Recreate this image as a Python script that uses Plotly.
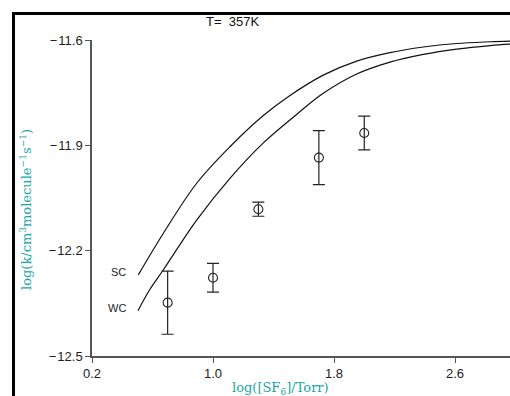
import plotly.graph_objects as go

# ---- data ----
title_text = "T=\u00a0\u00a0357K"
exp_x = [0.70, 1.00, 1.30, 1.70, 2.00]
exp_y = [-12.348, -12.277, -12.082, -11.935, -11.865]
exp_err = [0.090, 0.041, 0.020, 0.077, 0.048]

sc_x = [0.506, 0.671, 0.892, 1.112, 1.333, 1.509, 1.729, 1.950, 2.170, 2.391, 2.611, 2.832, 2.964]
sc_y = [-12.269, -12.151, -12.008, -11.904, -11.815, -11.758, -11.700, -11.660, -11.636, -11.620, -11.610, -11.605, -11.603]
wc_x = [0.504, 0.583, 0.671, 0.892, 1.112, 1.333, 1.553, 1.729, 1.950, 2.170, 2.391, 2.611, 2.832, 2.964]
wc_y = [-12.371, -12.310, -12.255, -12.113, -11.994, -11.893, -11.812, -11.752, -11.697, -11.663, -11.641, -11.626, -11.616, -11.612]

x_ticks = [0.2, 1.0, 1.8, 2.6]
x_ticklabels = ["0.2", "1.0", "1.8", "2.6"]
y_ticks = [-11.6, -11.9, -12.2, -12.5]
y_ticklabels = ["\u2212\u200a11.6", "\u2212\u200a11.9", "\u2212\u200a12.2", "\u2212\u200a12.5"]

teal = "#1aa6a6"

# plot area in page pixels: x 92..510, y 40..356
def px(x):
    return (x - 92) / 418

def py(y):
    return (356 - y) / 316

fig = go.Figure()
fig.add_trace(go.Scatter(x=sc_x, y=sc_y, mode="lines", line=dict(color="#111", width=1.2, shape="spline"),
                         showlegend=False, hoverinfo="skip"))
fig.add_trace(go.Scatter(x=wc_x, y=wc_y, mode="lines", line=dict(color="#111", width=1.2, shape="spline"),
                         showlegend=False, hoverinfo="skip"))
fig.add_trace(go.Scatter(x=exp_x, y=exp_y, mode="markers",
                         marker=dict(symbol="circle-open", size=9, color="#222", line=dict(width=1.1)),
                         error_y=dict(type="data", array=exp_err, visible=True, color="#222", thickness=1.2, width=6),
                         showlegend=False))

fig.update_layout(
    width=510, height=396,
    margin=dict(l=92, r=0, t=40, b=40),
    paper_bgcolor="white", plot_bgcolor="white",
    font=dict(family="Liberation Sans, Arial, sans-serif", size=12, color="#222"),
    xaxis=dict(range=[0.2, 2.9636], tickvals=x_ticks, ticktext=x_ticklabels, ticks="outside",
               ticklen=5, tickcolor="#555", showline=True, linecolor="#555", linewidth=1.5,
               showgrid=False, zeroline=False, tickfont=dict(size=13)),
    yaxis=dict(range=[-12.5, -11.6], tickvals=y_ticks, ticktext=y_ticklabels, ticks="outside",
               ticklen=5, tickcolor="#555", showline=True, linecolor="#555", linewidth=1.5,
               showgrid=False, zeroline=False, tickfont=dict(size=13)),
    shapes=[
        dict(type="line", xref="paper", yref="paper", x0=px(13.5), x1=px(13.5),
             y0=py(12), y1=py(400), line=dict(color="black", width=3)),
        dict(type="line", xref="paper", yref="paper", x0=px(12), x1=1.05,
             y0=py(13.5), y1=py(13.5), line=dict(color="black", width=3)),
    ],
    annotations=[
        dict(text=title_text, xref="paper", yref="paper", x=px(232), y=py(22),
             xanchor="center", yanchor="middle",
             showarrow=False, font=dict(size=13, color="#111")),
        dict(text="log(k/cm<sup>3</sup>molecule<sup>\u22121</sup>s<sup>\u22121</sup>)", xref="paper", yref="paper",
             x=px(26), y=py(210), xanchor="center", yanchor="middle", textangle=-90, showarrow=False,
             font=dict(family="DejaVu Serif, serif", size=13, color=teal)),
        dict(text="log([SF<sub>6</sub>]/Torr)", xref="paper", yref="paper",
             x=px(280), y=py(388), xanchor="center", yanchor="middle", showarrow=False,
             font=dict(family="DejaVu Serif, serif", size=13, color=teal)),
        dict(text="SC", x=sc_x[0], y=sc_y[0], xref="x", yref="y", xanchor="right", xshift=-10, yshift=3,
             showarrow=False, font=dict(size=11, color="#222")),
        dict(text="WC", x=wc_x[0], y=wc_y[0], xref="x", yref="y", xanchor="right", xshift=-10, yshift=3,
             showarrow=False, font=dict(size=11, color="#222")),
    ],
)

fig.write_html("out.html", config={"displayModeBar": False},
               post_script="document.body.style.margin='0px';document.body.style.overflow='hidden';")
